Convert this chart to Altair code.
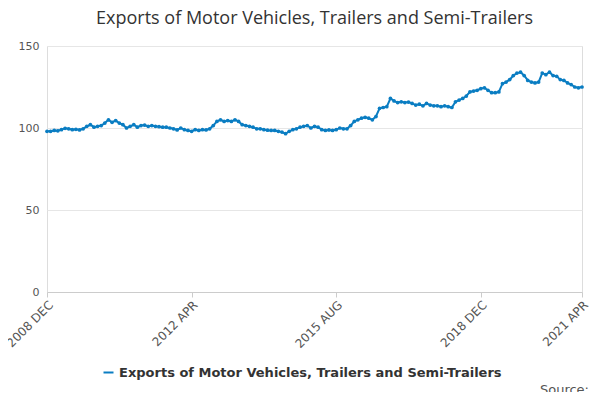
import pandas as pd
import altair as alt

series_name = "Exports of Motor Vehicles, Trailers and Semi-Trailers"
values = [
    98, 98, 98.5, 98.3, 99, 99.8, 99.5, 99, 99.2, 98.8,
    99.5, 101, 102, 100.5, 101, 101.5, 103, 105, 103.5, 104.5,
    103, 102, 100, 101, 102, 100.5, 101.5, 101.8, 101,
    101.5, 101, 100.8, 100.5, 100.5, 100, 99.5, 98.8, 100, 99,
    98.5, 98, 99, 98.5, 99, 98.8, 99.5, 101.5, 104, 105,
    104, 104.5, 104, 105, 104, 102, 101.5, 101, 100.5, 99.5,
    99.5, 99, 98.7, 98.5, 98.5, 98, 97.5, 96.5, 98, 99,
    99.5, 100.5, 101, 101.5, 100, 101, 100.5, 99, 98.5, 98.8,
    98.5, 99, 100, 99.5, 99.5, 101.5, 104, 105, 106, 106.5,
    106, 105, 107, 112, 112.5, 113, 118, 116.5, 115.5, 116,
    115.5, 115.8, 115, 114, 114.5, 113.5, 115, 114, 113.5, 113.5,
    113, 113.5, 113, 112.5, 116, 117, 118, 119.5, 122, 122.5,
    123, 124, 124.5, 123, 121.5, 121.5, 122, 127, 128, 129.5,
    132, 133.5, 134, 132, 129, 128, 127.5, 128, 133.5, 132.5,
    134, 132, 131.5, 129.5, 129, 127.5, 126.5, 125, 124.5, 125,
]
values = values[:149]  # Dec 2008 .. Apr 2021
tick_idx = [0, 40, 80, 120, 148]
tick_lab = ["2008 DEC", "2012 APR", "2015 AUG", "2018 DEC", "2021 APR"]
source_text = ["Source:"]

df = pd.DataFrame({"i": list(range(len(values))), "v": values, "s": series_name})
label_expr = " : ".join(
    f"datum.value == {i} ? '{l}'" for i, l in zip(tick_idx, tick_lab)
) + " : ''"

line = alt.Chart(df).mark_line(
    point=alt.OverlayMarkDef(size=14, filled=True), strokeWidth=2
).encode(
    x=alt.X("i:Q", title=None, scale=alt.Scale(domain=[0, 148], nice=False),
            axis=alt.Axis(values=tick_idx, labelExpr=label_expr, labelAngle=-45,
                          grid=False, domainColor="#ccc", tickColor="#ccc",
                          labelColor="#555", labelFontSize=12, labelAlign="right")),
    y=alt.Y("v:Q", title=None, scale=alt.Scale(domain=[0, 150]),
            axis=alt.Axis(values=[0, 50, 100, 150], domain=False, ticks=False,
                          gridColor="#e6e6e6", labelColor="#555", labelFontSize=11,
                          labelPadding=8)),
    color=alt.Color("s:N", title=None,
                    scale=alt.Scale(range=["#0a7dc2"]),
                    legend=alt.Legend(orient="none", legendX=55, legendY=320,
                                      labelFontSize=13,
                                      labelFontWeight="bold", labelColor="#333",
                                      symbolType="stroke", symbolStrokeWidth=2,
                                      labelLimit=500)),
)

source = alt.Chart(pd.DataFrame({"t": source_text})).mark_text(
    align="right", fontSize=13, color="#555"
).encode(x=alt.value(542), y=alt.value(344), text="t:N")

chart = (line + source).properties(
    width=535, height=246,
    autosize=alt.AutoSizeParams(type="none"),
    title=alt.TitleParams(series_name, fontSize=18, fontWeight="normal",
                          color="#333", font="Open Sans", offset=12),
    padding={"left": 39, "right": 10, "top": 38, "bottom": 100},
).configure_view(stroke=None).configure(font="DejaVu Sans")

chart.save("out.html", embed_options={"renderer": "svg", "actions": False})
